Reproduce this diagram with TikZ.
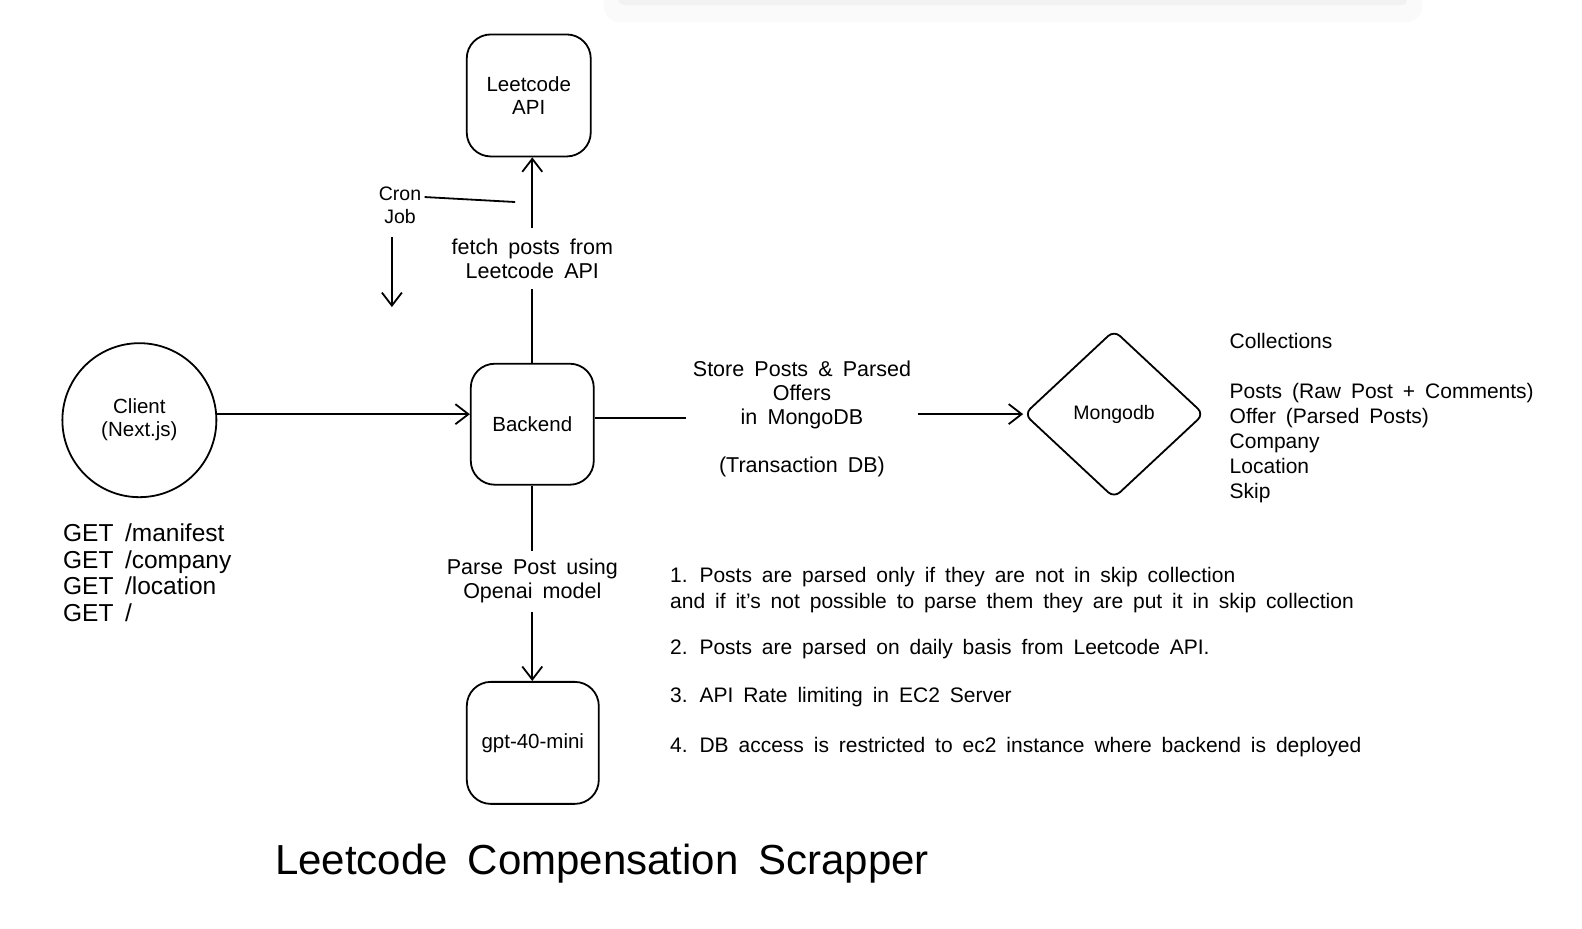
\documentclass[tikz,border=0pt]{standalone}
\usepackage{fontspec}
\setmainfont{Liberation Sans}[WordSpace=1.7]
\usetikzlibrary{arrows.meta,shapes.geometric}
\newcommand\lblfont{\fontsize{21.5}{24}\selectfont}
\newcommand\boxfont{\fontsize{20.5}{23}\selectfont}
\newcommand\smallfont{\fontsize{19.5}{23}\selectfont}
\newcommand\notefont{\fontsize{21}{26}\selectfont}
\newcommand\collfont{\fontsize{21}{25}\selectfont}
\newcommand\getfont{\fontsize{24.5}{26.7}\selectfont}
\newcommand\titlefont{\fontsize{42}{48}\selectfont}
\begin{document}
\begin{tikzpicture}[x=1.01pt,y=-1.01pt,
  box/.style={draw, line width=1.8pt, rounded corners=24pt, align=center, font=\boxfont},
  lbl/.style={align=center, font=\lblfont},
  conn/.style={line width=1.8pt},
  arr/.style={line width=1.8pt, -{Straight Barb[length=13pt,width=20pt,line width=1.8pt]}}]
\useasboundingbox (0,0) rectangle (1566.3,918.8);
% faint shadow at the top edge
\fill[black!2, rounded corners=16pt] (598,-12) rectangle (1408,22);
\fill[black!5, rounded corners=6pt] (612,-10) rectangle (1393,5);

% nodes
\node[box, minimum width=124pt, minimum height=122pt] (api) at (523.5,94.5) {Leetcode\\API};
\node[box, minimum width=123pt, minimum height=121pt] (backend) at (527,420) {Backend};
\node[box, minimum width=132pt, minimum height=122pt, font=\boxfont] (gpt) at (527.5,735.5) {gpt-40-mini};
\node[draw, circle, line width=1.8pt, minimum size=154pt, align=center, font=\boxfont] (client) at (138,416) {Client\\(Next.js)};
\node[draw, diamond, line width=1.8pt, rounded corners=8pt, minimum width=180pt, minimum height=168pt, inner sep=0pt, font=\smallfont] (mongo) at (1103,410) {Mongodb};

% labels
\node[lbl, minimum height=60pt] (fetch) at (527,256) {fetch posts from\\Leetcode API};
\node[lbl, minimum height=61pt] (parse) at (527,575.5) {Parse Post using\\Openai model};
\node[lbl, minimum width=232pt] (store) at (794,415) {Store Posts \& Parsed\\Offers\\in MongoDB\\[24pt](Transaction DB)};
\node[lbl, font=\smallfont, align=center] (cron) at (396,203) {Cron\\Job};
\coordinate (cronend) at (510,200);
\coordinate (cronA) at (388,235);
\coordinate (cronB) at (388,304);

\node[anchor=west, align=left, font=\collfont] (coll) at (1214,414)
  {Collections\\[25pt]Posts (Raw Post + Comments)\\Offer (Parsed Posts)\\Company\\Location\\Skip};
\node[anchor=west, align=left, font=\getfont] (gets) at (59,567)
  {GET /manifest\\GET /company\\GET /location\\GET /};

\node[anchor=west, align=left, font=\notefont] (n1) at (660,584)
  {1. Posts are parsed only if they are not in skip collection\\and if it's not possible to parse them they are put it in skip collection};
\node[anchor=west, font=\notefont] (n2) at (660,643) {2. Posts are parsed on daily basis from Leetcode API.};
\node[anchor=west, font=\notefont] (n3) at (660,690) {3. API Rate limiting in EC2 Server};
\node[anchor=west, font=\notefont] (n4) at (660,740) {4. DB access is restricted to ec2 instance where backend is deployed};

\node[font=\titlefont] (title) at (596,855) {Leetcode Compensation Scrapper};

% connectors
\draw[arr] ([yshift=6pt]client.east) -- ([yshift=6pt]client.east -| backend.west);
\draw[conn] (backend.north) -- (fetch.south);
\draw[arr] (fetch.north) -- (fetch.north |- api.south);
\draw[conn] (backend.south) -- (parse.north);
\draw[arr] (parse.south) -- (parse.south |- gpt.north);
\draw[conn] ([yshift=6pt]backend.east) -- ([yshift=6pt]backend.east -| store.west);
\draw[arr] (store.east |- mongo.west) -- (mongo.west);
\draw[conn] ([yshift=8pt]cron.east) -- (cronend);
\draw[arr] (cronA) -- (cronB);
\end{tikzpicture}
\end{document}
